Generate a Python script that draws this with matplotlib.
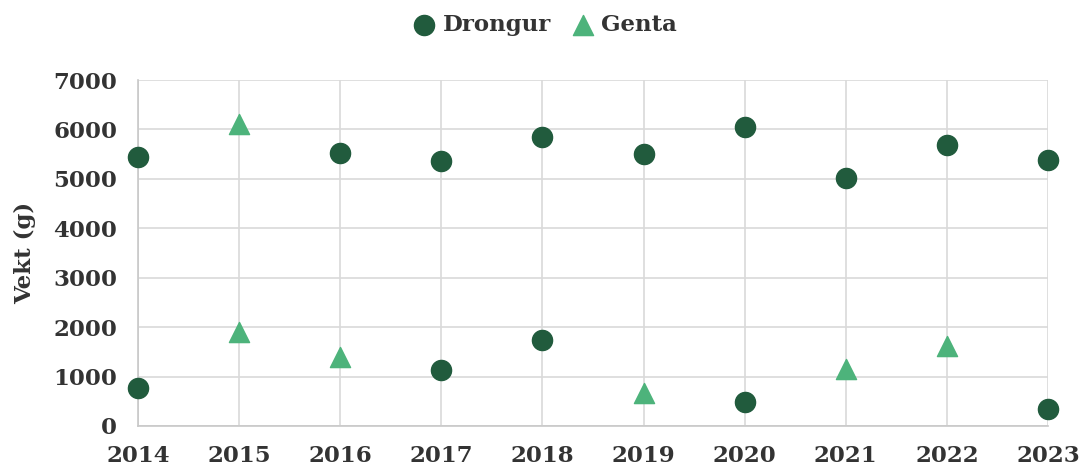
import matplotlib.pyplot as plt

# data
drongur_years = [2014, 2014, 2016, 2017, 2017, 2018, 2018, 2019, 2020, 2020, 2021, 2022, 2023, 2023]
drongur_vekt = [5440, 770, 5520, 5360, 1130, 5840, 1740, 5500, 6050, 480, 5020, 5680, 5380, 350]
genta_years = [2015, 2015, 2016, 2019, 2021, 2022]
genta_vekt = [6110, 1900, 1390, 660, 1150, 1610]
years = list(range(2014, 2024))

dark = '#215B3D'
light = '#4DB37B'
text_col = '#333333'

plt.rcParams['font.family'] = ['DejaVu Serif']
plt.rcParams['font.weight'] = 'bold'

fig = plt.figure(figsize=(10.83, 4.72), dpi=100)
ax = fig.add_axes([0.1274, 0.0975, 0.8403, 0.733])

ax.scatter(drongur_years, drongur_vekt, s=210, color=dark, marker='o', label='Drongur', zorder=3, clip_on=False)
ax.scatter(genta_years, genta_vekt, s=210, color=light, marker='^', label='Genta', zorder=3, clip_on=False)

ax.set_xlim(2014, 2023)
ax.set_ylim(0, 7000)
ax.set_xticks(years)
ax.set_yticks(range(0, 7001, 1000))
ax.grid(True, color='#d9d9d9', linewidth=1.2)
ax.set_axisbelow(True)
for side in ['top', 'right']:
    ax.spines[side].set_visible(False)
for side in ['left', 'bottom']:
    ax.spines[side].set_color('#c8c8c8')
    ax.spines[side].set_linewidth(1.2)
ax.tick_params(length=0, labelsize=16.5, colors=text_col)
ax.tick_params(axis='y', pad=15)
ax.tick_params(axis='x', pad=14)
ax.set_ylabel('Vekt (g)', fontsize=16.5, color=text_col, fontweight='bold', labelpad=12)

fig.legend(loc='upper center', bbox_to_anchor=(0.503, 1.013), ncol=2, frameon=False,
           fontsize=16.5, handlelength=1.0, handletextpad=0.3, columnspacing=0.9,
           labelcolor=text_col)

plt.savefig('out.png', dpi=100)
